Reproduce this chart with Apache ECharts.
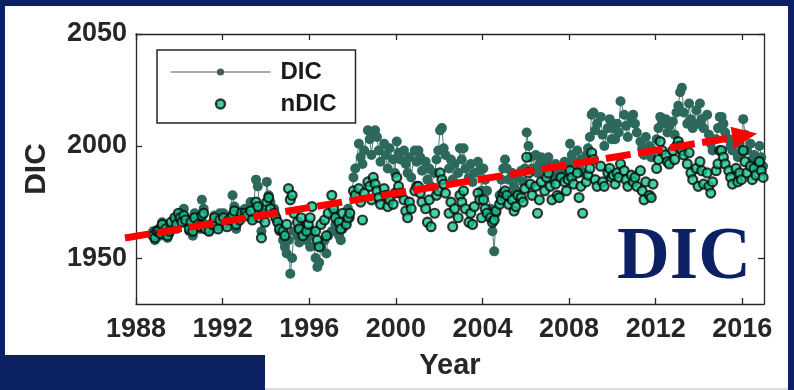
<!DOCTYPE html>
<html><head><meta charset="utf-8">
<script src="https://cdn.jsdelivr.net/npm/echarts@6/dist/echarts.min.js"></script>
<style>html,body{margin:0;padding:0;background:#fff;overflow:hidden}#c{width:794px;height:390px}</style>
</head><body><div id="c"></div>
<script>
// Monthly sampling starting Oct 1988 (null = no cruise that month)
const startYear = 1988, startMonth = 10;

const dic = [
  1962, 1958, 1960,
  1963, 1960, 1966, null, 1962, 1959, 1961, 1964, null, 1967, 1963, 1969,
  1970, 1966, 1972, 1968, null, 1962, 1965, 1960, 1970, null, 1967, 1963,
  1976, 1972, 1965, null, 1962, null, 1966, 1969, null, 1964, 1970, null,
  1970, null, 1965, 1968, null, 1978, 1973, 1963, null, 1968, 1971, null,
  1972, 1970, null, 1975, 1968, null, 1985, 1982, 1972, 1962, null, 1970,
  1984, 1978, 1975, null, 1972, 1968, 1966, 1962, null, 1958, 1955, 1952,
  1958, 1943, 1950, 1962, null, 1960, 1957, 1964, 1962, null, 1958, 1960,
  1955, 1962, null, 1950, 1946, 1948, 1955, null, 1958, 1952, 1960, null,
  1962, 1970, 1965, null, 1960, 1958, 1963, null, 1966, 1972, 1968, null,
  1986, 1990, null, 2001, 1995, 1992, 1998, null, 2007, 2003, 1996, 2005,
  2007, 2004, 1998, 1993, null, 2001, 1996, 1990, 1999, null, 1994, 1988,
  2002, 1997, 1994, null, 1998, 1992, 1988, 1995, 1986, null, 1998, 1993,
  1998, 1995, 1989, null, 1993, 1985, 1990, 1982, null, 1988, 1994, 1998,
  2007, 2008, 1999, 1996, null, 1990, 1994, 1985, 1992, null, 1988, 1999,
  1994, 1999, 1990, null, 1986, 1992, 1984, 1988, null, 1993, 1989, 1980,
  1990, 1985, 1980, null, 1972, 1962, 1953, 1970, null, 1978, 1985, 1990,
  1994, 1990, 1985, null, 1988, 1982, 1980, 1986, null, 1989, 1984, 1990,
  2006, 2000, 1995, 1990, null, 1996, 1988, 1992, 1995, null, 1990, 1993,
  1995, 1990, 1985, null, 1992, 1988, 1986, 1990, null, 1993, 1987, 1991,
  2001, 1996, 1993, null, 1998, 1990, 1994, 1988, null, 1996, 1999, 2004,
  2014, 2015, 2007, 2010, null, 2013, 2005, 2000, null, 2008, 2012, 2003,
  2008, 2003, 2010, 2006, 2020, null, 2014, 2009, 2004, null, 2012, 2014,
  2010, 2006, null, 2002, 1999, 1996, 2004, null, 2000, 1995, 1998, null,
  2003, 2008, 2013, 2010, null, 2012, 2006, 2009, null, 2011, 2005, 2015,
  2018, 2024, 2026, 2015, null, 2010, 2019, 2012, 2008, null, 2016, 2010,
  2019, 2012, 2008, null, 2014, 2005, 2001, 1998, null, 2003, 2008, 2013,
  2013, 2010, 2006, null, 2003, 2000, 1998, null, 2004, 1995, 2001, 1997,
  2012, 2005, 1998, null, 2001, 1994, 1996, 1992, null, 2000, 1995, 1991
];

const ndic = [
  1960, 1959, 1962,
  1962, 1961, 1965, null, 1963, 1960, 1962, 1966, null, 1968, 1965, 1970,
  1968, 1966, 1969, 1967, null, 1963, 1966, 1962, 1968, null, 1965, 1964,
  1969, 1970, 1963, null, 1962, null, 1965, 1968, null, 1963, 1967, null,
  1968, null, 1964, 1967, null, 1969, 1971, 1965, null, 1967, 1970, null,
  1970, 1969, null, 1971, 1967, null, 1975, 1973, 1968, 1959, null, 1966,
  1975, 1977, 1972, null, 1970, 1968, 1966, 1963, null, 1962, 1960, 1965,
  1981, 1976, 1978, 1970, null, 1966, 1963, 1968, 1960, null, 1962, 1965,
  1968, 1973, null, 1962, 1958, 1955, 1965, null, 1967, 1960, 1970, null,
  1978, 1972, 1968, null, 1966, 1963, 1970, null, 1965, 1968, 1970, null,
  1980, 1978, null, 1981, 1975, 1967, 1979, null, 1984, 1982, 1976, 1986,
  1983, 1980, 1977, 1974, null, 1981, 1978, 1973, 1976, null, 1974, 1979,
  1986, 1982, 1979, null, 1976, 1971, 1968, 1975, 1972, null, 1980, 1982,
  1982, 1979, 1975, null, 1972, 1966, 1976, 1964, null, 1970, 1978, 1980,
  1988, 1985, 1983, 1979, null, 1970, 1975, 1964, 1972, null, 1968, 1978,
  1975, 1980, 1972, null, 1966, 1970, 1965, 1973, null, 1979, 1976, 1968,
  1976, 1972, 1970, null, 1968, 1966, 1967, 1971, null, 1974, 1976, 1979,
  1980, 1978, 1974, null, 1976, 1971, 1973, 1978, null, 1977, 1975, 1981,
  1995, 1988, 1983, 1978, null, 1982, 1970, 1976, 1984, null, 1980, 1986,
  1988, 1982, 1976, null, 1983, 1978, 1977, 1986, null, 1984, 1980, 1985,
  1989, 1986, 1983, null, 1988, 1977, 1982, 1970, null, 1984, 1987, 1990,
  1997, 1994, 1985, 1982, null, 1991, 1984, 1982, null, 1988, 1990, 1986,
  1987, 1983, 1988, 1986, 1992, null, 1989, 1985, 1982, null, 1987, 1984,
  1986, 1982, null, 1989, 1980, 1976, 1984, null, 1978, 1977, 1983, null,
  1990, 1994, 2002, 1998, null, 1996, 1993, 1992, null, 1998, 1994, 2000,
  2002, 2000, 1998, 1996, null, 1992, 1997, 1988, 1985, null, 1990, 1982,
  1993, 1989, 1983, null, 1988, 1982, 1979, 1984, null, 1989, 1992, 1998,
  1998, 1995, 1992, null, 1989, 1986, 1983, null, 1990, 1984, 1988, 1985,
  1998, 1993, 1988, null, 1991, 1985, 1990, 1987, null, 1993, 1989, 1986
];

const xTicks = [1988, 1992, 1996, 2000, 2004, 2008, 2012, 2016];
const yTicks = [1950, 2000, 2050];
// trend arrow: [x0, y0, x1, y1] in data units
const trendArrow = [1987.49, 1958.96, 2016.68, 2005.6];

const times = dic.map((_, i) => startYear + (startMonth - 1 + i + 0.5) / 12);
const dicData = dic.map((v, i) => [times[i], v]);
const ndicData = ndic.map((v, i) => [times[i], v]);

const NAVY = '#0b2163';
const AX = '#262626';
const chart = echarts.init(document.getElementById('c'), null, {renderer: 'canvas'});

const tickFont = {fontFamily: 'Liberation Sans, Arial, sans-serif', fontWeight: 'bold', fontSize: 27, color: AX,
  formatter: function (v) { return String(v); }};

chart.setOption({
  animation: false,
  backgroundColor: '#fff',
  grid: {left: 136, right: 30, top: 34, bottom: 86, containLabel: false},
  xAxis: [{
    type: 'value', min: 1988, max: 2017, position: 'bottom',
    axisLine: {show: true, onZero: false, lineStyle: {color: AX, width: 1.3}},
    axisTick: {show: true, inside: true, length: 6, customValues: xTicks, lineStyle: {color: AX, width: 1.3}},
    axisLabel: Object.assign({customValues: xTicks, margin: 12}, tickFont),
    splitLine: {show: false},
    name: 'Year', nameLocation: 'middle', nameGap: 47,
    nameTextStyle: {fontFamily: 'Liberation Sans, Arial, sans-serif', fontWeight: 'bold', fontSize: 29, color: AX}
  }, {
    type: 'value', min: 1988, max: 2017, position: 'top',
    axisLine: {show: true, onZero: false, lineStyle: {color: AX, width: 1.3}},
    axisTick: {show: true, inside: true, length: 6, customValues: xTicks, lineStyle: {color: AX, width: 1.3}},
    axisLabel: {show: false}, splitLine: {show: false}
  }],
  yAxis: [{
    type: 'value', min: 1929.5, max: 2050, position: 'left',
    axisLine: {show: true, onZero: false, lineStyle: {color: AX, width: 1.3}},
    axisTick: {show: true, inside: true, length: 6, customValues: yTicks, lineStyle: {color: AX, width: 1.3}},
    axisLabel: Object.assign({customValues: yTicks, margin: 9}, tickFont),
    splitLine: {show: false},
    name: 'DIC', nameLocation: 'middle', nameGap: 84, nameRotate: 90,
    nameTextStyle: {fontFamily: 'Liberation Sans, Arial, sans-serif', fontWeight: 'bold', fontSize: 30, color: AX}
  }, {
    type: 'value', min: 1929.5, max: 2050, position: 'right',
    axisLine: {show: true, onZero: false, lineStyle: {color: AX, width: 1.3}},
    axisTick: {show: true, inside: true, length: 6, customValues: yTicks, lineStyle: {color: AX, width: 1.3}},
    axisLabel: {show: false}, splitLine: {show: false}
  }],
  legend: {
    orient: 'vertical', left: 157, top: 50,
    padding: [10, 19, 7, 13],
    backgroundColor: '#fff', borderColor: AX, borderWidth: 1.5,
    itemWidth: 100, itemHeight: 9, itemGap: 8,
    textStyle: {fontFamily: 'Liberation Sans, Arial, sans-serif', fontWeight: 'bold', fontSize: 24, color: '#1a1a1a', lineHeight: 24, padding: [0, 0, 0, 5]},
    data: [
      {name: 'DIC', itemStyle: {color: '#4b5a57'}, lineStyle: {color: '#555', width: 1}},
      {name: 'nDIC', icon: 'circle', itemStyle: {color: '#17c48f', borderColor: '#0d0d0d', borderWidth: 2.5}}
    ]
  },
  series: [{
    name: 'DIC', type: 'line', xAxisIndex: 0, yAxisIndex: 0,
    data: dicData, connectNulls: true,
    symbol: 'circle', symbolSize: 10, showSymbol: true,
    lineStyle: {color: '#557f76', width: 1},
    itemStyle: {color: '#2c685c'},
    z: 2
  }, {
    name: 'nDIC', type: 'scatter', xAxisIndex: 0, yAxisIndex: 0,
    data: ndicData,
    symbol: 'circle', symbolSize: 9,
    itemStyle: {color: '#17c48f', borderColor: '#0a0a0a', borderWidth: 2.2},
    z: 3
  }, {
    type: 'custom', xAxisIndex: 0, yAxisIndex: 0, clip: false, silent: true, z: 5,
    data: [trendArrow],
    encode: {x: [0, 2], y: [1, 3]},
    renderItem: function (params, api) {
      const p0 = api.coord([api.value(0), api.value(1)]);
      const p1 = api.coord([api.value(2), api.value(3)]);
      const dx = p1[0] - p0[0], dy = p1[1] - p0[1];
      const len = Math.sqrt(dx * dx + dy * dy);
      const ux = dx / len, uy = dy / len;
      const headLen = 25, headHalf = 11;
      const bx = p1[0] - ux * headLen, by = p1[1] - uy * headLen;
      return {
        type: 'group',
        children: [{
          type: 'line',
          shape: {x1: p0[0], y1: p0[1], x2: bx, y2: by},
          style: {stroke: '#ff0000', lineWidth: 7, lineDash: [25, 7.5], fill: null}
        }, {
          type: 'polygon',
          shape: {points: [[p1[0], p1[1]], [bx - uy * headHalf, by + ux * headHalf], [bx + uy * headHalf, by - ux * headHalf]]},
          style: {fill: '#ff0000'}
        }]
      };
    }
  }],
  graphic: [
    {type: 'rect', left: 0, top: 0, shape: {width: 794, height: 6}, style: {fill: NAVY}, z: 100},
    {type: 'rect', left: 0, top: 0, shape: {width: 5, height: 390}, style: {fill: NAVY}, z: 100},
    {type: 'rect', left: 788, top: 0, shape: {width: 6, height: 390}, style: {fill: NAVY}, z: 100},
    {type: 'rect', left: 0, top: 355, shape: {width: 265, height: 35}, style: {fill: NAVY}, z: 100},
    {type: 'rect', left: 265, top: 388, shape: {width: 523, height: 2}, style: {fill: '#dcdcdc'}, z: 100},
    {type: 'text', left: 617, top: 223, z: 100,
      style: {text: 'DIC', fill: NAVY, font: 'bold 73px "Liberation Serif", "Times New Roman", serif'}}
  ]
});
</script></body></html>
